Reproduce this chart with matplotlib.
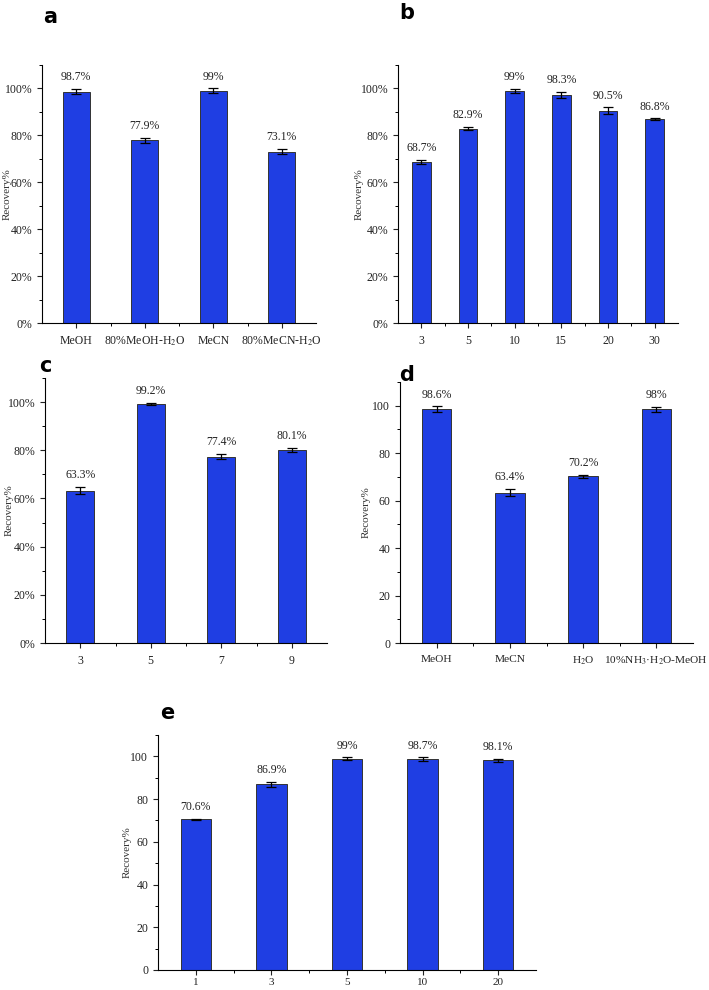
import matplotlib
matplotlib.use('Agg')
import matplotlib.pyplot as plt
from matplotlib.ticker import MultipleLocator, FixedLocator, PercentFormatter

# panel a: elution solvent
a_cats = ['MeOH', '80%MeOH-H$_2$O', 'MeCN', '80%MeCN-H$_2$O']
a_vals = [98.7, 77.9, 99.0, 73.1]
a_err = [1.0, 1.0, 1.0, 1.0]
a_text = ['98.7%', '77.9%', '99%', '73.1%']

# panel b
b_cats = ['3', '5', '10', '15', '20', '30']
b_vals = [68.7, 82.9, 99.0, 97.2, 90.5, 86.8]
b_err = [0.9, 0.6, 0.8, 1.3, 1.4, 0.4]
b_text = ['68.7%', '82.9%', '99%', '98.3%', '90.5%', '86.8%']

# panel c
c_cats = ['3', '5', '7', '9']
c_vals = [63.3, 99.2, 77.4, 80.1]
c_err = [1.5, 0.5, 1.2, 1.0]
c_text = ['63.3%', '99.2%', '77.4%', '80.1%']

# panel d
d_cats = ['MeOH', 'MeCN', 'H$_2$O', '10%NH$_3$·H$_2$O-MeOH']
d_vals = [98.6, 63.4, 70.2, 98.5]
d_err = [1.1, 1.5, 0.6, 1.0]
d_text = ['98.6%', '63.4%', '70.2%', '98%']

# panel e
e_cats = ['1', '3', '5', '10', '20']
e_vals = [70.6, 86.9, 99.0, 98.7, 98.1]
e_err = [0.3, 1.2, 0.6, 1.0, 0.8]
e_text = ['70.6%', '86.9%', '99%', '98.7%', '98.1%']

BLUE = '#1f3ee3'
SERIF = ['Liberation Serif', 'DejaVu Serif']
plt.rcParams['font.family'] = SERIF
plt.rcParams['mathtext.fontset'] = 'stix'

W, H = 709, 990
fig = plt.figure(figsize=(W / 100, H / 100), dpi=100)

def panel(box, cats, vals, err, text, letter, lpos, ylab_dx, pct=True, xfs=8.5, xpad=5):
    # box: left, top, right, bottom of axes in pixels
    l, t, r, b = box
    ax = fig.add_axes([l / W, 1 - b / H, (r - l) / W, (b - t) / H])
    x = list(range(len(cats)))
    ax.bar(x, vals, width=0.4, color=BLUE, edgecolor='#333333', linewidth=0.7, zorder=2)
    ax.errorbar(x, vals, yerr=err, fmt='none', ecolor='black', elinewidth=0.9,
                capsize=3.5, capthick=0.9, zorder=3)
    for xi, v, e, tx in zip(x, vals, err, text):
        ax.text(xi, v + e + 2.5, tx, ha='center', va='bottom', fontsize=8.5, color='#222222')
    ax.set_xlim(-0.5, len(cats) - 0.5)
    ax.set_ylim(0, 110)
    ax.yaxis.set_major_locator(FixedLocator([0, 20, 40, 60, 80, 100]))
    ax.yaxis.set_minor_locator(MultipleLocator(10))
    if pct:
        ax.yaxis.set_major_formatter(PercentFormatter(decimals=0))
    ax.set_xticks(x)
    ax.set_xticklabels(cats, fontsize=xfs)
    ax.xaxis.set_minor_locator(FixedLocator([i + 0.5 for i in x[:-1]]))
    for s in ('top', 'right'):
        ax.spines[s].set_visible(False)
    for s in ('left', 'bottom'):
        ax.spines[s].set_linewidth(0.8)
    ax.tick_params(axis='both', which='major', direction='out', length=3.5, width=0.8,
                   labelsize=8.5, colors='#222222')
    ax.tick_params(axis='x', which='major', pad=xpad, labelsize=xfs)
    ax.tick_params(axis='both', which='minor', direction='out', length=2, width=0.7)
    ax.set_ylabel('Recovery%', fontsize=8, color='#333333')
    ax.yaxis.set_label_coords(-ylab_dx / (r - l), 0.5)
    fig.text(lpos[0] / W, 1 - lpos[1] / H, letter, fontsize=15, fontweight='bold',
             family=['DejaVu Sans'], ha='center', va='center')
    return ax

panel((42, 65, 316, 323), a_cats, a_vals, a_err, a_text, 'a', (50, 17), 30)
panel((398, 65, 678, 323), b_cats, b_vals, b_err, b_text, 'b', (407, 13), 34)
panel((45, 378, 327, 643), c_cats, c_vals, c_err, c_text, 'c', (45, 366), 31)
panel((400, 382, 693, 643), d_cats, d_vals, d_err, d_text, 'd', (407, 375), 29,
      pct=False, xfs=8.2)
panel((158, 735, 536, 970), e_cats, e_vals, e_err, e_text, 'e', (167, 713), 26,
      pct=False, xfs=8, xpad=2)

fig.savefig('out.png', dpi=100)
